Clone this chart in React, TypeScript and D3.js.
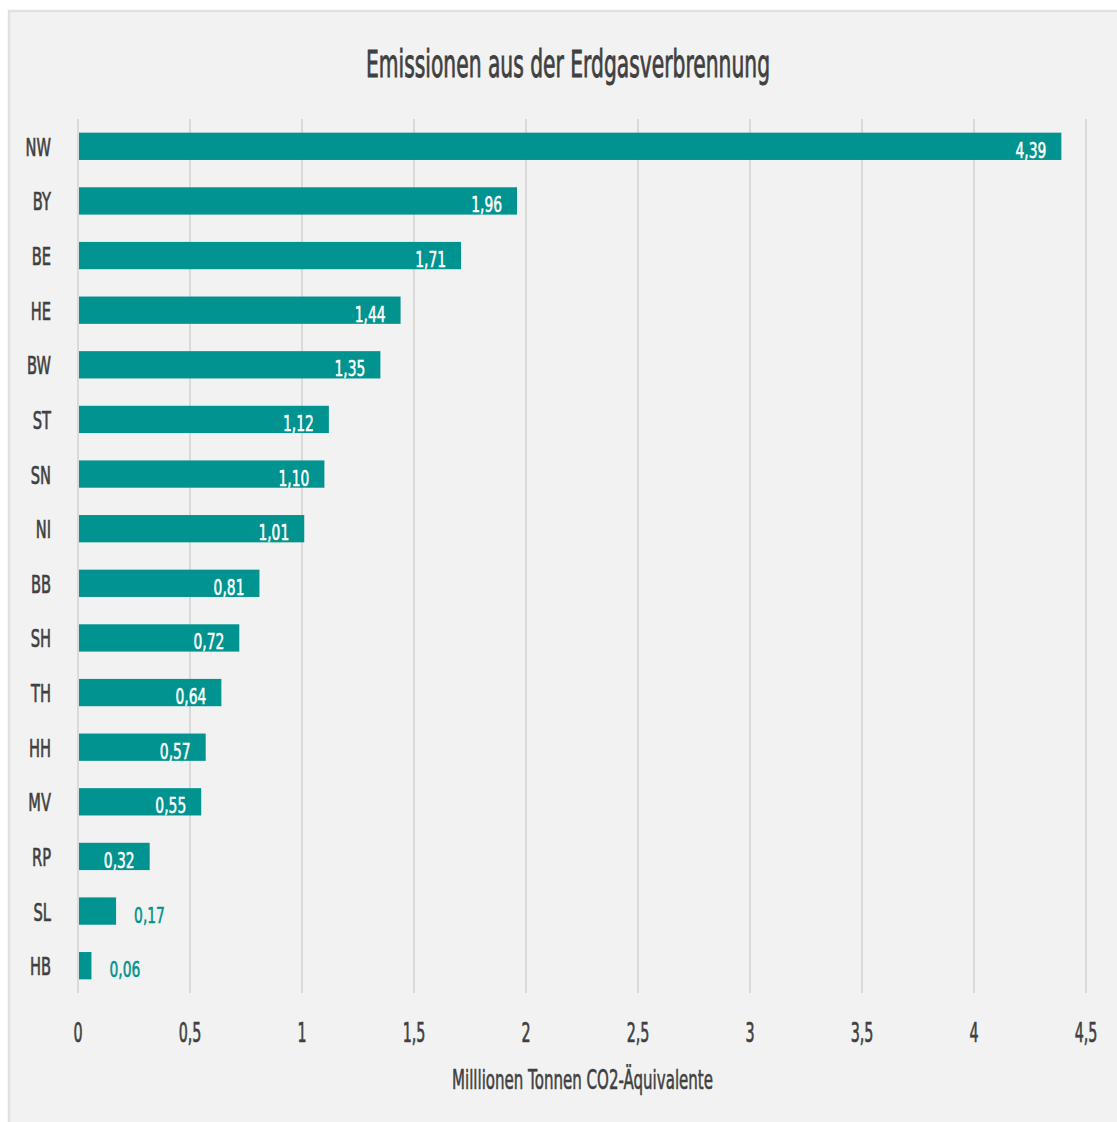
import React from "react";
import * as d3 from "d3";

const categories = ["NW", "BY", "BE", "HE", "BW", "ST", "SN", "NI", "BB", "SH", "TH", "HH", "MV", "RP", "SL", "HB"];
const values = [4.39, 1.96, 1.71, 1.44, 1.35, 1.12, 1.1, 1.01, 0.81, 0.72, 0.64, 0.57, 0.55, 0.32, 0.17, 0.06];
const ticks = [0, 0.5, 1, 1.5, 2, 2.5, 3, 3.5, 4, 4.5];
const title = "Emissionen aus der Erdgasverbrennung";
const axisTitle = "Milllionen Tonnen CO2-Äquivalente";

const W = 1117;
const H = 1122;
const FONT = "'DejaVu Sans', sans-serif";
const TEAL = "#00938f";
const TEXT = "#404040";

const fmt = (v: number) => v.toFixed(2).replace(".", ",");
const fmtTick = (v: number) => String(v).replace(".", ",");

function NText(props: { x: number; y: number; sx: number; size: number; anchor: string; fill: string; children: React.ReactNode; sw?: number }) {
  const { x, y, sx, size, anchor, fill, children, sw } = props;
  return (
    <g transform={`translate(${x},${y}) scale(${sx},1)`}>
      <text x={0} y={0} textAnchor={anchor} fontSize={size} fill={fill} stroke={fill} strokeWidth={sw ?? 0.7}>
        {children}
      </text>
    </g>
  );
}

export default function App() {
  const x = d3.scaleLinear().domain([0, 4.5]).range([78, 1086]);
  const y = d3.scaleBand<string>().domain(categories).range([119, 993]).paddingInner(0.5).paddingOuter(0.25);
  const bw = y.bandwidth();
  return (
    <svg width={W} height={H} style={{ position: "absolute", left: 0, top: 0 }} fontFamily={FONT}>
      <rect x={0} y={0} width={W} height={H} fill="#ffffff" />
      <rect x={9} y={11} width={W + 10} height={H + 10} fill="#f2f2f2" stroke="#e1e1e1" strokeWidth={2.5} />
      <text x={366} y={77} fontSize={37} fill={TEXT} stroke={TEXT} strokeWidth={0.9} textLength={404} lengthAdjust="spacingAndGlyphs">{title}</text>
      {ticks.map((t) => (
        <g key={t}>
          <line x1={x(t)} x2={x(t)} y1={119} y2={993} stroke="#dadada" strokeWidth={2} />
          <NText x={x(t)} y={1042} sx={0.55} size={26} anchor="middle" fill={TEXT}>{fmtTick(t)}</NText>
        </g>
      ))}
      {categories.map((c, i) => {
        const v = values[i];
        const y0 = y(c) as number;
        const x1 = x(v);
        const inside = x1 - x(0) > 60;
        return (
          <g key={c}>
            <rect x={x(0) + 1} y={y0} width={x1 - x(0) - 1} height={bw} fill={TEAL} />
            <NText x={51} y={y0 + bw / 2 + 9.5} sx={0.61} size={24} anchor="end" fill={TEXT}>{c}</NText>
            <NText
              x={inside ? x1 - 15 : x1 + 18}
              y={y0 + bw / 2 + 11.5}
              sx={0.66}
              size={21}
              anchor={inside ? "end" : "start"}
              fill={inside ? "#ffffff" : TEAL}
              sw={0.6}
            >
              {fmt(v)}
            </NText>
          </g>
        );
      })}
      <text x={452} y={1089} fontSize={26} fill={TEXT} stroke={TEXT} strokeWidth={0.6} textLength={261} lengthAdjust="spacingAndGlyphs">{axisTitle}</text>
    </svg>
  );
}
